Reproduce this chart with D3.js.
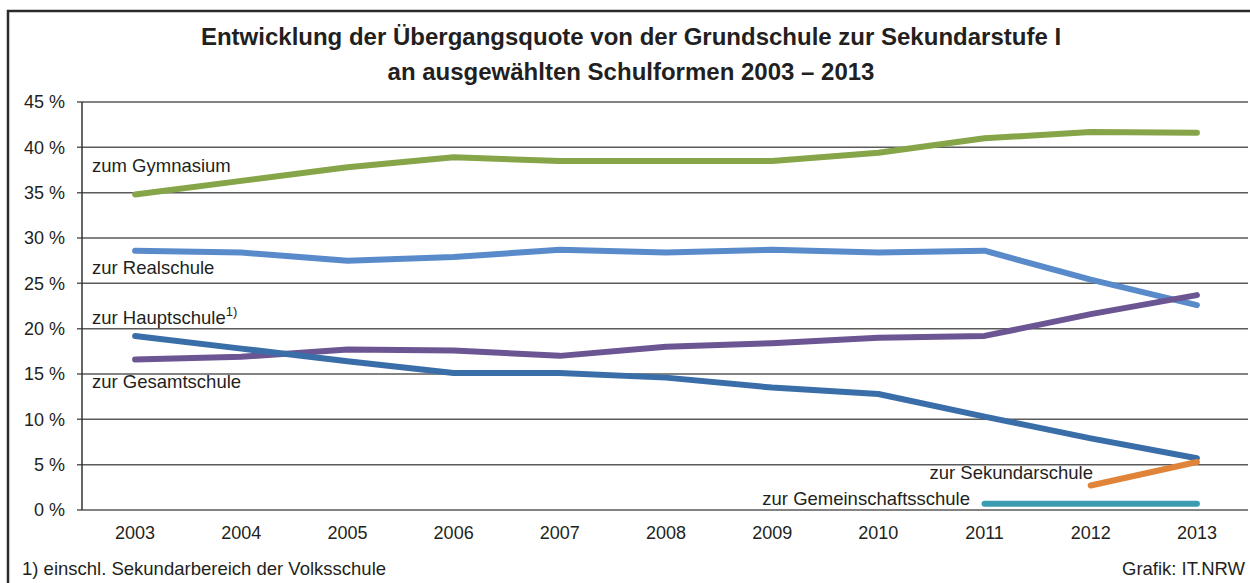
<!DOCTYPE html>
<html>
<head>
<meta charset="utf-8">
<script src="https://cdn.jsdelivr.net/npm/d3@7"></script>
<style>
  html, body { margin: 0; padding: 0; background: #fff; }
  svg { display: block; font-family: "Liberation Sans", Arial, sans-serif; }
</style>
</head>
<body>
<svg id="chart"></svg>
<script>
// years on the x axis
const years = ["2003", "2004", "2005", "2006", "2007", "2008", "2009", "2010", "2011", "2012", "2013"];
const yTicks = [0, 5, 10, 15, 20, 25, 30, 35, 40, 45];

// Übergangsquote in % (null = Schulform gab es noch nicht)
const gymnasium = [34.8, 36.3, 37.8, 38.9, 38.5, 38.5, 38.5, 39.4, 41.0, 41.7, 41.6];
const realschule = [28.6, 28.4, 27.5, 27.9, 28.7, 28.4, 28.7, 28.4, 28.6, 25.4, 22.6];
const hauptschule = [16.6, 16.9, 17.7, 17.6, 17.0, 18.0, 18.4, 19.0, 19.2, 21.6, 23.7];
const gesamtschule = [19.2, 17.8, 16.4, 15.1, 15.1, 14.6, 13.5, 12.8, 10.3, 7.9, 5.7];
const sekundarschule = [null, null, null, null, null, null, null, null, null, 2.7, 5.3];
const gemeinschaftsschule = [null, null, null, null, null, null, null, null, 0.7, 0.7, 0.7];

const width = 1250;
const height = 583;

const svg = d3.select("#chart")
    .attr("width", width)
    .attr("height", height);

// frame (right and bottom edge run off the picture)
svg.append("rect")
    .attr("x", 8)
    .attr("y", 11)
    .attr("width", width + 20)
    .attr("height", height + 20)
    .attr("fill", "none")
    .attr("stroke", "#2b2b2b")
    .attr("stroke-width", 2.5);

// title
const title = svg.append("g")
    .attr("text-anchor", "middle")
    .attr("font-weight", "bold")
    .attr("font-size", 24)
    .attr("fill", "#231f20");
title.append("text").attr("x", 631).attr("y", 45)
    .text("Entwicklung der Übergangsquote von der Grundschule zur Sekundarstufe I");
title.append("text").attr("x", 631).attr("y", 80)
    .text("an ausgewählten Schulformen 2003 – 2013");

const x = d3.scaleBand()
    .domain(years)
    .range([82, 1250]);

const y = d3.scaleLinear()
    .domain([0, 45])
    .range([510, 102]);

const xc = d => x(d) + x.bandwidth() / 2;

// gridlines + tick marks
svg.append("g")
    .selectAll("line")
    .data(yTicks)
    .join("line")
    .attr("x1", 77)
    .attr("x2", 1248)
    .attr("y1", d => y(d))
    .attr("y2", d => y(d))
    .attr("stroke", "#5a5a5a")
    .attr("stroke-width", 1.5);

// y axis line
svg.append("line")
    .attr("x1", 82).attr("x2", 82)
    .attr("y1", y(45)).attr("y2", y(0))
    .attr("stroke", "#333")
    .attr("stroke-width", 1.5);

// y labels
svg.append("g")
    .attr("text-anchor", "end")
    .attr("font-size", 18)
    .attr("fill", "#231f20")
    .selectAll("text")
    .data(yTicks)
    .join("text")
    .attr("x", 65)
    .attr("y", d => y(d))
    .attr("dy", "0.35em")
    .text(d => d + " %");

// x labels
svg.append("g")
    .attr("text-anchor", "middle")
    .attr("font-size", 18)
    .attr("fill", "#231f20")
    .selectAll("text")
    .data(years)
    .join("text")
    .attr("x", d => xc(d))
    .attr("y", 539)
    .text(d => d);

const series = [
    { name: "gymnasium", values: gymnasium, color: "#86a448" },
    { name: "realschule", values: realschule, color: "#598bcb" },
    { name: "hauptschule", values: hauptschule, color: "#6c5593" },
    { name: "gesamtschule", values: gesamtschule, color: "#3a6ea8" },
    { name: "sekundarschule", values: sekundarschule, color: "#e0843a" },
    { name: "gemeinschaftsschule", values: gemeinschaftsschule, color: "#3b9bb0" }
];

const line = d3.line()
    .defined(d => d.v != null)
    .x(d => xc(d.year))
    .y(d => y(d.v));

svg.append("g")
    .attr("fill", "none")
    .attr("stroke-width", 6)
    .attr("stroke-linecap", "round")
    .attr("stroke-linejoin", "round")
    .selectAll("path")
    .data(series)
    .join("path")
    .attr("stroke", d => d.color)
    .attr("d", d => line(d.values.map((v, i) => ({ year: years[i], v }))));

// series labels
const labels = svg.append("g")
    .attr("font-size", 18.5)
    .attr("fill", "#231f20");
labels.append("text").attr("x", 92).attr("y", 172).text("zum Gymnasium");
labels.append("text").attr("x", 92).attr("y", 274).text("zur Realschule");
const hs = labels.append("text").attr("x", 92).attr("y", 324);
hs.append("tspan").text("zur Hauptschule");
hs.append("tspan").attr("font-size", 13).attr("dy", -8).text("1)");
labels.append("text").attr("x", 92).attr("y", 388).text("zur Gesamtschule");
labels.append("text").attr("x", 1093).attr("y", 479).attr("text-anchor", "end").text("zur Sekundarschule");
labels.append("text").attr("x", 970).attr("y", 505).attr("text-anchor", "end").text("zur Gemeinschaftsschule");

// footer
svg.append("text")
    .attr("x", 22).attr("y", 575)
    .attr("font-size", 18.5)
    .attr("fill", "#231f20")
    .text("1) einschl. Sekundarbereich der Volksschule");
svg.append("text")
    .attr("x", 1245).attr("y", 575)
    .attr("text-anchor", "end")
    .attr("font-size", 18.5)
    .attr("fill", "#231f20")
    .text("Grafik: IT.NRW");
</script>
</body>
</html>
